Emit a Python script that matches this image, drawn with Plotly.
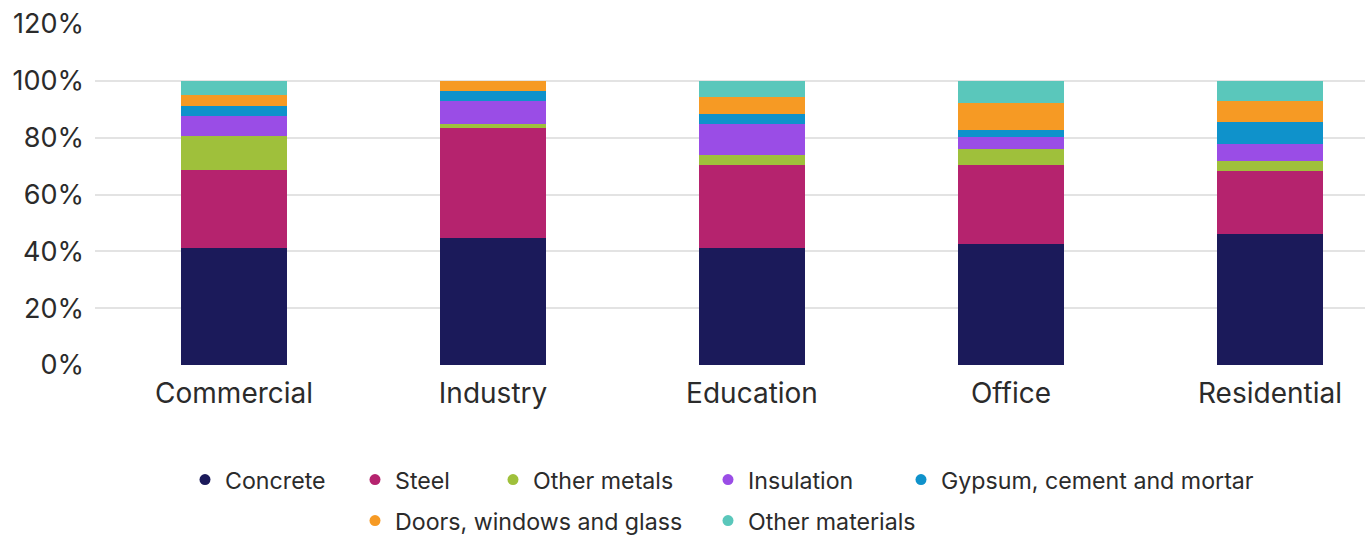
import plotly.graph_objects as go

# Share of embodied carbon by material, per building type (percent)
categories = ["Commercial", "Industry", "Education", "Office", "Residential"]

concrete = [41.2, 44.6, 41.2, 42.6, 46.0]
steel = [27.3, 38.8, 29.3, 27.9, 22.4]
other_metals = [12.0, 1.4, 3.3, 5.4, 3.5]
insulation = [7.0, 8.2, 10.9, 4.2, 6.0]
gypsum = [3.5, 3.3, 3.6, 2.6, 7.5]
doors_windows_glass = [4.0, 3.7, 6.0, 9.6, 7.4]
other_materials = [5.0, 0.0, 5.7, 7.7, 7.2]

series_names = [
    "Concrete", "Steel", "Other metals", "Insulation",
    "Gypsum, cement and mortar", "Doors, windows and glass", "Other materials",
]
series_values = [concrete, steel, other_metals, insulation, gypsum,
                 doors_windows_glass, other_materials]
colors = ["#1b1a5a", "#b5236e", "#9fc03b", "#9a4de6", "#0f92cb", "#f69a24", "#5ac7bb"]

y_ticks = [0, 20, 40, 60, 80, 100, 120]
y_tick_labels = ["0%", "20%", "40%", "60%", "80%", "100%", "120%"]

FONT = "Inter, Noto Sans, sans-serif"
TEXT = "#2b2b2b"

# Legend entry positions: (x pixel of marker, row)
legend_slots = [(197, 0), (367, 0), (505, 0), (720, 0), (913, 0), (367, 1), (720, 1)]

L, R, T, B = 95, 0, 24, 177
W, H = 1365, 543
pw, ph = W - L - R, H - T - B

fig = go.Figure()
x_idx = list(range(len(categories)))
for name, vals, col in zip(series_names, series_values, colors):
    fig.add_trace(go.Bar(
        x=x_idx, y=vals, name=name, marker=dict(color=col, line=dict(width=0)),
        width=0.41, showlegend=False, legendgroup=name,
    ))

legend_layouts = {}
for i, (name, col, (px, row)) in enumerate(zip(series_names, colors, legend_slots)):
    key = "legend" if i == 0 else f"legend{i + 1}"
    fig.add_trace(go.Scatter(
        x=[None], y=[None], mode="markers", name=name, legendgroup=name,
        marker=dict(color=col, size=11, symbol="circle"),
        showlegend=True, legend=key,
    ))
    row_y = 480 if row == 0 else 522
    legend_layouts[key] = dict(
        x=(px - 12 - L) / pw, xanchor="left",
        y=(H - B - row_y) / ph, yanchor="middle",
        orientation="h", bgcolor="rgba(0,0,0,0)",
        font=dict(family=FONT, size=23.2, color=TEXT),
        itemwidth=30, tracegroupgap=0,
    )

fig.update_layout(
    width=W, height=H,
    margin=dict(l=L, r=R, t=T, b=B, pad=0),
    paper_bgcolor="white", plot_bgcolor="white",
    barmode="stack", bargap=0,
    font=dict(family=FONT, size=24, color=TEXT),
    xaxis=dict(
        range=[-0.537, 4.367], tickmode="array", tickvals=x_idx, ticktext=categories,
        showgrid=False, zeroline=False, showline=False, ticks="",
        ticklabelstandoff=9,
        tickfont=dict(family=FONT, size=28, color=TEXT),
    ),
    yaxis=dict(
        range=[0, 120], tickmode="array", tickvals=y_ticks, ticktext=y_tick_labels,
        showgrid=True, gridcolor="#e3e3e3", gridwidth=2, zeroline=False,
        showline=False, ticks="", ticklabelstandoff=10,
        tickfont=dict(family=FONT, size=27, color=TEXT),
    ),
    **legend_layouts,
)

fig.write_html("out.html")
